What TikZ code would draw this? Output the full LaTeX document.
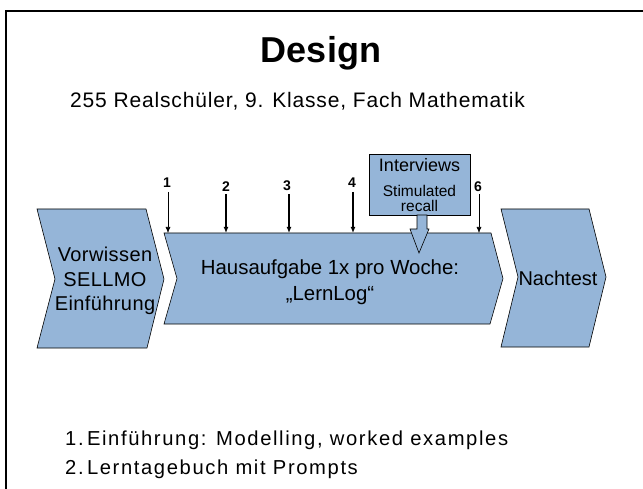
\documentclass[tikz,border=0pt]{standalone}
\usepackage{fontspec}
\setmainfont{Liberation Sans}
\newfontfamily\spacedA[LetterSpace=4]{Liberation Sans}
\newfontfamily\spacedB[LetterSpace=8]{Liberation Sans}
\newfontfamily\spacedC[LetterSpace=2]{Liberation Sans}
\usetikzlibrary{arrows.meta}
\definecolor{chev}{RGB}{149,181,216}
\tikzset{
  chevron/.style={fill=chev,draw=black,line width=0.6pt,line join=miter},
  lbl/.style={font=\fontsize{14}{15}\selectfont\bfseries,inner sep=0pt},
  thinarr/.style={-{Latex[length=6pt,width=5pt]},line width=0.6pt},
  thickarr/.style={-{Latex[length=6pt,width=5pt]},line width=1.3pt},
  ctext/.style={font=\fontsize{20}{25}\selectfont,align=center,inner sep=0pt},
  listtext/.style={font=\spacedB\fontsize{20.2}{22}\selectfont,anchor=west,inner sep=0pt},
}
\begin{document}
\begin{tikzpicture}[x=1pt,y=-1pt]
\useasboundingbox (0,0) rectangle (643,489);
% frame
\draw[line width=2pt] (6,489) -- (6,11) -- (643,11);
% title
\node[font=\fontsize{36}{40}\selectfont\bfseries] (title) at (321,53) {Design};
\node[font=\spacedA\fontsize{21}{23}\selectfont,anchor=west,inner sep=0pt] (sub) at (70,101) {255 Realschüler, 9. Klasse, Fach Mathematik};
% chevrons
\draw[chevron] (37,209) -- (146,209) -- (164,279) -- (147,348) -- (37,348) -- (55,279) -- cycle;
\draw[chevron] (164,233) -- (491,233) -- (503,278.5) -- (490,324) -- (164,324) -- (177,278.5) -- cycle;
\draw[chevron] (501,209) -- (589,209) -- (606,277) -- (589,347) -- (501,347) -- (518,277) -- cycle;
\node[ctext,font=\spacedC\fontsize{20}{24.5}\selectfont] (vor) at (105,281) {Vorwissen\\SELLMO\\Einführung};
\node[ctext,font=\fontsize{20.4}{26}\selectfont] (haus) at (330,282) {Hausaufgabe 1x pro Woche:\\„LernLog“};
\node[ctext] (nach) at (558,278) {Nachtest};
% interviews box
\node[fill=chev,draw=black,line width=0.6pt,minimum width=101pt,minimum height=61pt,inner sep=0pt] (intv) at (419.5,184.5) {};
\node[font=\fontsize{18}{20}\selectfont,inner sep=0pt] (intvt) at (419.5,165) {Interviews};
\node[font=\fontsize{15.5}{15}\selectfont,align=center,inner sep=0pt] (stim) at (419.5,198) {Stimulated\\recall};
% block arrow
\draw[chevron] (417,215) -- (427,215) -- (427,229) -- (429,229) -- (419,253) -- (410,229) -- (417,229) -- cycle;
% timeline arrows
\node[lbl] (n1) at (167,183) {1};
\node[lbl] (n2) at (226,187) {2};
\node[lbl] (n3) at (287,186) {3};
\node[lbl] (n4) at (352,183) {4};
\node[lbl] (n6) at (478,187) {6};
\coordinate (t1) at (168,233);
\coordinate (t2) at (226,233);
\coordinate (t3) at (289,233);
\coordinate (t4) at (353,233);
\coordinate (t6) at (479,233);
\draw[thinarr] (168,192) -- (t1);
\draw[thickarr] (226,194) -- (t2);
\draw[thickarr] (289,194) -- (t3);
\draw[thickarr] (353,192) -- (t4);
\draw[thinarr] (479,194) -- (t6);
% list
\node[listtext] (l1) at (65,440) {1.\,Einführung: Modelling, worked examples};
\node[listtext] (l2) at (65,469) {2.\,Lerntagebuch mit Prompts};
\end{tikzpicture}
\end{document}
